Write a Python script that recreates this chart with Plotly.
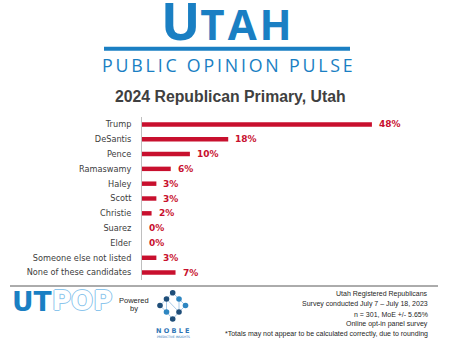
import plotly.graph_objects as go

# ---- data ----
candidates = ["Trump", "DeSantis", "Pence", "Ramaswamy", "Haley", "Scott", "Christie",
              "Suarez", "Elder", "Someone else not listed", "None of these candidates"]
support_pct = [48, 18, 10, 6, 3, 3, 2, 0, 0, 3, 7]
footnote_lines = ["Utah Registered Republicans",
                  "Survey conducted July 7 \u2013 July 18, 2023",
                  "n = 301, MoE +/- 5.65%",
                  "Online opt-in panel survey",
                  "*Totals may not appear to be calculated correctly, due to rounding"]
chart_title = "2024 Republican Primary, Utah"

# ---- geometry helpers (pixel -> paper) ----
W, H = 454, 341
ML, MR, MT, MB = 142, 0, 117, 61
PW, PH = W - ML - MR, H - MT - MB
def px(x):
    return (x - ML) / PW
def py(y):
    return 1 - (y - MT) / PH

BLUE = "#1a7fc3"
LIGHTBLUE = "#8cc5ec"
RED = "#c8102e"

fig = go.Figure()
fig.add_trace(go.Bar(
    x=support_pct, y=candidates, orientation="h",
    marker=dict(color=RED, line=dict(width=0)), width=0.3,
    hoverinfo="skip",
))

annotations = []
# value labels
for c, v in zip(candidates, support_pct):
    annotations.append(dict(x=v, y=c, xref="x", yref="y", text=f"{v}%",
                            showarrow=False, xanchor="left", yanchor="middle", xshift=5,
                            font=dict(family="DejaVu Sans", size=9, color=RED, weight="bold")))

# header
annotations.append(dict(x=px(228), y=py(57), xref="paper", yref="paper",
                        text='<span style="font-size:52px">U</span><span style="letter-spacing:3px">TAH</span>',
                        showarrow=False, xanchor="center", yanchor="bottom",
                        font=dict(family="Open Sans", size=42, color=BLUE, weight="bold")))
annotations.append(dict(x=px(228), y=py(65), xref="paper", yref="paper",
                        text='<span style="letter-spacing:2.8px">PUBLIC OPINION PULSE</span>',
                        showarrow=False, xanchor="center", yanchor="middle",
                        font=dict(family="Open Sans", size=17.8, color=BLUE)))
annotations.append(dict(x=px(230), y=py(96), xref="paper", yref="paper",
                        text=chart_title, showarrow=False,
                        xanchor="center", yanchor="middle",
                        font=dict(family="Liberation Sans", size=15.8, color="#404040", weight="bold")))

# footnotes
for i, line in enumerate(footnote_lines):
    annotations.append(dict(x=px(430), y=py(294 + 10 * i), xref="paper", yref="paper",
                            text=line, showarrow=False, xanchor="right", yanchor="middle",
                            font=dict(family="Liberation Sans", size=7, color="#262626")))

# UTPOP logo
annotations.append(dict(x=px(10), y=py(301), xref="paper", yref="paper",
                        text="UT", showarrow=False, xanchor="left", yanchor="middle",
                        font=dict(family="DejaVu Sans", size=26.5, color=BLUE, weight="bold")))
annotations.append(dict(x=px(50), y=py(301), xref="paper", yref="paper",
                        text="POP", showarrow=False, xanchor="left", yanchor="middle",
                        font=dict(family="DejaVu Sans", size=26, color="white", weight="bold",
                                  shadow="1px 0 0 %s, -1px 0 0 %s, 0 1px 0 %s, 0 -1px 0 %s" % ((LIGHTBLUE,) * 4))))
annotations.append(dict(x=px(134), y=py(300), xref="paper", yref="paper",
                        text="Powered", showarrow=False, xanchor="center", yanchor="middle",
                        font=dict(family="Liberation Sans", size=7.5, color="#262626")))
annotations.append(dict(x=px(134), y=py(308), xref="paper", yref="paper",
                        text="by", showarrow=False, xanchor="center", yanchor="middle",
                        font=dict(family="Liberation Sans", size=7.5, color="#262626")))
annotations.append(dict(x=px(173), y=py(331), xref="paper", yref="paper",
                        text="N O B L E", showarrow=False, xanchor="center", yanchor="middle",
                        font=dict(family="DejaVu Sans", size=6.5, color="#2e75b6", weight="bold")))
annotations.append(dict(x=px(173), y=py(337), xref="paper", yref="paper",
                        text="PREDICTIVE INSIGHTS", showarrow=False, xanchor="center", yanchor="middle",
                        font=dict(family="DejaVu Sans", size=3, color="#2e75b6")))

shapes = []
# blue rule under UTAH
shapes.append(dict(type="line", xref="paper", yref="paper", x0=px(104), x1=px(350),
                   y0=py(48.8), y1=py(48.8), line=dict(color=BLUE, width=4)))
# footer rule
shapes.append(dict(type="line", xref="paper", yref="paper", x0=px(10), x1=px(438),
                   y0=py(286), y1=py(286), line=dict(color="#595959", width=1)))
# Noble logo
links = [((166.5, 299), (166.5, 312)), ((166.5, 299), (179, 312)), ((179, 299), (179, 312)),
         ((172.7, 292.7), (166.5, 299)), ((172.7, 292.7), (179, 299)),
         ((160, 305.5), (166.5, 299)), ((160, 305.5), (166.5, 312)),
         ((185.5, 305.5), (179, 299)), ((185.5, 305.5), (179, 312)),
         ((172.7, 319), (166.5, 312)), ((172.7, 319), (179, 312))]
for (a, b) in links:
    shapes.append(dict(type="line", xref="paper", yref="paper", x0=px(a[0]), x1=px(b[0]),
                       y0=py(a[1]), y1=py(b[1]), line=dict(color="#a9cbe8", width=1)))
dots = [(172.7, 292.7, "#1f4e79"), (166.5, 299, "#1f4e79"), (179, 299, "#2e86c1"),
        (160, 305.5, "#1f4e79"), (185.5, 305.5, "#2e86c1"), (166.5, 312, "#2e86c1"),
        (179, 312, "#1f4e79"), (172.7, 319, "#1f4e79")]
r = 2.8
for (x, y, c) in dots:
    shapes.append(dict(type="circle", xref="paper", yref="paper", x0=px(x - r), x1=px(x + r),
                       y0=py(y + r), y1=py(y - r), fillcolor=c, line=dict(width=0)))

fig.update_layout(
    width=W, height=H, margin=dict(l=ML, r=MR, t=MT, b=MB),
    paper_bgcolor="white", plot_bgcolor="white", showlegend=False,
    xaxis=dict(visible=False, range=[0, PW / 4.79], fixedrange=True),
    yaxis=dict(type="category", categoryorder="array", categoryarray=candidates,
               autorange="reversed", showgrid=False, zeroline=False,
               showline=True, linecolor="#bfbfbf", linewidth=1,
               ticks="", ticklabelstandoff=8,
               tickfont=dict(family="DejaVu Sans", size=8.2, color="#404040")),
    annotations=annotations, shapes=shapes,
)

fig.write_html("out.html")
